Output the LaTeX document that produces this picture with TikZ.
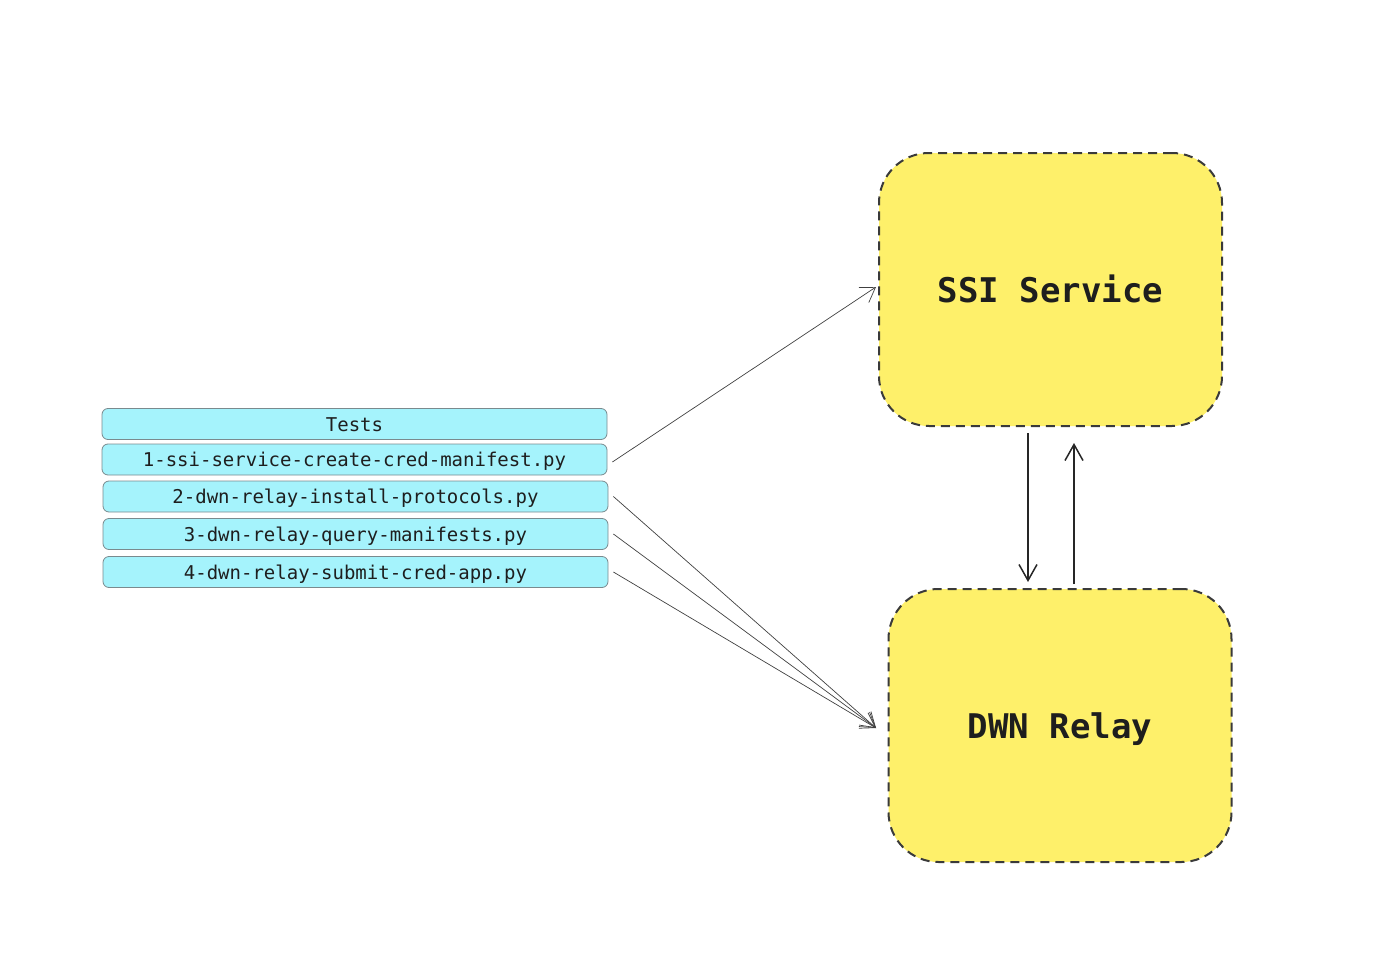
\documentclass[tikz,border=0pt]{standalone}
\usepackage{fontspec}
\setmonofont{DejaVu Sans Mono}
\usetikzlibrary{arrows.meta,calc}
\definecolor{cyanfill}{HTML}{A5F3FC}
\definecolor{cyanedge}{HTML}{7A8A8E}
\definecolor{yelfill}{HTML}{FEF06A}
\definecolor{darkedge}{HTML}{3A3A3A}
\definecolor{txt}{HTML}{1E1E1E}
\tikzset{
  testbox/.style={draw=cyanedge, fill=cyanfill, rounded corners=6pt, line width=0.8pt,
    minimum width=505pt, minimum height=31pt, inner sep=0pt, text height=14pt, text depth=0pt,
    font=\ttfamily\fontsize{19}{22}\selectfont, text=txt},
  bigbox/.style={draw=darkedge, fill=yelfill, dash pattern=on 9pt off 6pt,
    line width=2pt, rounded corners=50pt, minimum width=343pt, minimum height=273pt,
    inner sep=0pt, text height=25pt, text depth=0pt,
    font=\ttfamily\bfseries\fontsize{34}{40}\selectfont, text=txt},
  thinarrow/.style={draw=black!75, line width=0.7pt, -{Straight Barb[length=14pt,width=18pt]}},
  vertarrow/.style={draw=black!85, line width=1.5pt, -{Straight Barb[length=16pt,width=18pt]}}
}
\begin{document}
\begin{tikzpicture}[x=1pt,y=-1pt]
\useasboundingbox (0,0) rectangle (1390,966);
\node[testbox] (tests) at (354.5,424) {Tests};
\node[testbox] (t1) at (354.5,459.5) {1-ssi-service-create-cred-manifest.py};
\node[testbox] (t2) at (355.5,496.5) {2-dwn-relay-install-protocols.py};
\node[testbox] (t3) at (355.5,534) {3-dwn-relay-query-manifests.py};
\node[testbox] (t4) at (355.5,572) {4-dwn-relay-submit-cred-app.py};
\node[bigbox] (ssi) at (1050.5,289.5) {SSI Service};
\node[bigbox] (dwn) at (1060,725.5) {DWN Relay};
\coordinate (ssiin) at (876,287);
\coordinate (dwnin) at (876,728);
\draw[thinarrow] ([xshift=5pt,yshift=-2.5pt]t1.east) -- (ssiin);
\draw[thinarrow] ([xshift=5pt]t2.east) -- (dwnin);
\draw[thinarrow] ([xshift=5pt]t3.east) -- (dwnin);
\draw[thinarrow] ([xshift=5pt]t4.east) -- (dwnin);
\coordinate (dA) at ([yshift=-6pt]ssi.south -| 1028,0);
\coordinate (dB) at ([yshift=6pt]dwn.north -| 1028,0);
\coordinate (uA) at ([yshift=4pt]dwn.north -| 1074,0);
\coordinate (uB) at ([yshift=-16pt]ssi.south -| 1074,0);
\draw[vertarrow] (dA) -- (dB);
\draw[vertarrow] (uA) -- (uB);
\end{tikzpicture}
\end{document}
